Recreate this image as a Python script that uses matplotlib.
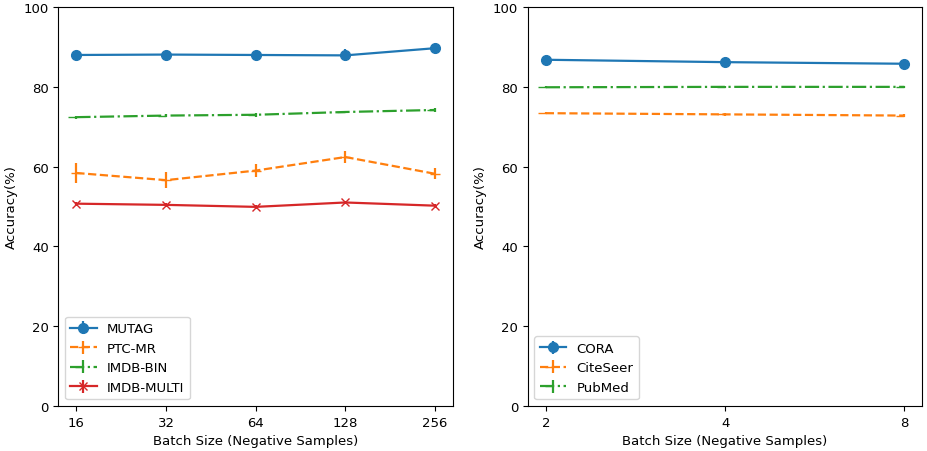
import numpy as np
from matplotlib import pyplot as plt
from matplotlib.markers import TICKLEFT

graph_sizes = ["16", "32", "64", "128", "256"]
mutag = [88.0, 88.1, 88.0, 87.9, 89.7]
mutag_err = [0.5, 0.5, 0.5, 1.5, 0.6]
ptc_mr = [58.4, 56.6, 59.0, 62.4, 58.2]
ptc_mr_err = [2.6, 2.0, 1.6, 1.4, 1.4]
imdb_bin = [72.4, 72.8, 73.0, 73.7, 74.2]
imdb_bin_err = [0.4, 0.4, 0.5, 0.3, 0.4]
imdb_multi = [50.7, 50.4, 49.9, 51.0, 50.2]
imdb_multi_err = [0.4, 0.4, 0.5, 0.4, 0.4]

node_sizes = ["2", "4", "8"]
cora = [86.8, 86.2, 85.8]
cora_err = [0.3, 0.3, 0.3]
citeseer = [73.4, 73.1, 72.8]
citeseer_err = [0.3, 0.3, 0.3]
pubmed = [79.9, 80.0, 80.0]
pubmed_err = [0.3, 0.3, 0.3]

plt.rcParams["font.size"] = 9.5
plt.rcParams["lines.linewidth"] = 1.6

fig, (ax1, ax2) = plt.subplots(1, 2, figsize=(9.27, 4.52), dpi=100)
fig.subplots_adjust(left=0.063, right=0.995, bottom=0.1, top=0.982, wspace=0.19)

x1 = np.arange(len(graph_sizes))
ax1.errorbar(x1, mutag, yerr=mutag_err, marker="o", markersize=7, linestyle="-", label="MUTAG")
ax1.errorbar(x1, ptc_mr, yerr=ptc_mr_err, marker="_", markersize=7, linestyle="--", label="PTC-MR")
ax1.errorbar(x1, imdb_bin, yerr=imdb_bin_err, marker=TICKLEFT, linestyle="-.", label="IMDB-BIN")
ax1.errorbar(x1, imdb_multi, yerr=imdb_multi_err, marker="x", markersize=6, linestyle="-", label="IMDB-MULTI")
ax1.set_xticks(x1)
ax1.set_xticklabels(graph_sizes)
ax1.set_ylim(0, 100)
ax1.set_xlabel("Batch Size (Negative Samples)")
ax1.set_ylabel("Accuracy(%)")
ax1.legend(loc="lower left")

x2 = np.arange(len(node_sizes))
ax2.errorbar(x2, cora, yerr=cora_err, marker="o", markersize=7, linestyle="-", label="CORA")
ax2.errorbar(x2, citeseer, yerr=citeseer_err, marker=TICKLEFT, linestyle="--", label="CiteSeer")
ax2.errorbar(x2, pubmed, yerr=pubmed_err, marker=TICKLEFT, linestyle="-.", label="PubMed")
ax2.set_xticks(x2)
ax2.set_xticklabels(node_sizes)
ax2.set_ylim(0, 100)
ax2.set_xlabel("Batch Size (Negative Samples)")
ax2.set_ylabel("Accuracy(%)")
ax2.legend(loc="lower left")

plt.savefig("out.png")
